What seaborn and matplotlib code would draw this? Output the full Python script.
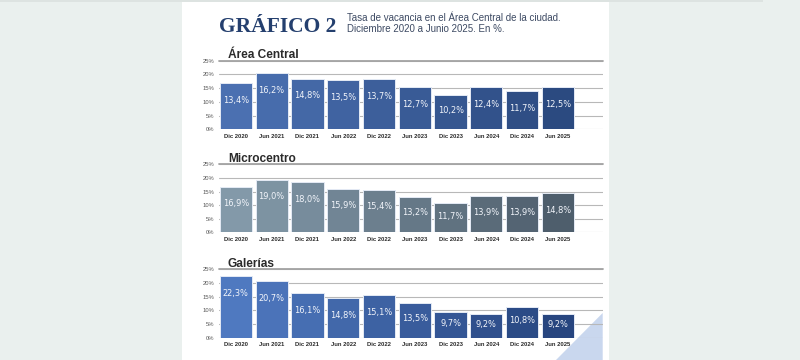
"""
Gráfico 2: tasa de vacancia en el Área Central de la ciudad (Dic 2020 - Jun 2025).
Three stacked bar panels, drawn on a white card over a pale background.
"""
import numpy as np
import pandas as pd
import matplotlib.pyplot as plt
from matplotlib.patches import Rectangle, Polygon
from matplotlib import font_manager
import seaborn as sns

periods = ["Dic 2020", "Jun 2021", "Dic 2021", "Jun 2022", "Dic 2022",
           "Jun 2023", "Dic 2023", "Jun 2024", "Dic 2024", "Jun 2025"]

# bar heights as drawn against the 0-25% axis
area_central_bar = [16.9, 20.6, 18.5, 17.9, 18.2, 15.5, 12.5, 15.3, 13.9, 15.5]
microcentro_bar = [16.8, 19.3, 18.5, 16.0, 15.7, 13.0, 10.8, 13.3, 13.3, 14.3]
galerias_bar = [22.6, 20.7, 16.2, 14.4, 15.6, 12.7, 9.3, 8.5, 11.2, 8.5]

# values printed inside the bars
area_central_pct = [13.4, 16.2, 14.8, 13.5, 13.7, 12.7, 10.2, 12.4, 11.7, 12.5]
microcentro_pct = [16.9, 19.0, 18.0, 15.9, 15.4, 13.2, 11.7, 13.9, 13.9, 14.8]
galerias_pct = [22.3, 20.7, 16.1, 14.8, 15.1, 13.5, 9.7, 9.2, 10.8, 9.2]

y_ticks = [0, 5, 10, 15, 20, 25]

panels = [
    ("Área Central", area_central_bar, area_central_pct, ["#4b70b1", "#2b4a80"]),
    ("Microcentro", microcentro_bar, microcentro_pct, ["#8399a9", "#4e5e6c"]),
    ("Galerías", galerias_bar, galerias_pct, ["#4f79c0", "#27457f"]),
]

W, H = 800, 360
# axes boxes in pixels: left, top (25% line), right, bottom (0% line)
boxes = [(219, 60.7, 602.7, 129.3), (219, 164.3, 602.7, 232.3), (219, 269.3, 602.7, 337.7)]


def fmt_pct(v):
    return f"{v:.1f}".replace(".", ",") + "%"


sns.set_theme(style="white")
plt.rcParams['font.family'] = ['Liberation Sans', 'DejaVu Sans']

# condensed face for the in-bar numbers, if the system has one
label_font = font_manager.FontProperties(family='DejaVu Sans', stretch='condensed', size=6.6)

fig = plt.figure(figsize=(W / 100, H / 100), dpi=100)
fig.patch.set_facecolor('#eaf0ee')

# white card + corner decoration
fig.add_artist(Rectangle((182 / W, 0), (609 - 182) / W, 1, transform=fig.transFigure,
                         facecolor='white', edgecolor='none', zorder=-2))
fig.add_artist(Rectangle((0, 1 - 2 / H), 763 / W, 2 / H, transform=fig.transFigure,
                         facecolor='#dde3e1', edgecolor='none', zorder=-1.5))
fig.add_artist(Polygon([(556 / W, 0), (602.7 / W, 1 - 313 / H), (602.7 / W, 0)],
                       closed=True, transform=fig.transFigure,
                       facecolor='#c9d7ee', edgecolor='none', zorder=-1))

for (name, bars, pct, colors), (l, t, r, b) in zip(panels, boxes):
    ax = fig.add_axes([l / W, 1 - b / H, (r - l) / W, (b - t) / H])
    ax.set_facecolor('none')
    df = pd.DataFrame({'period': periods, 'rate': bars})
    sns.barplot(data=df, x='period', y='rate', hue='period', legend=False,
                palette=sns.blend_palette(colors, len(periods)), width=0.9,
                edgecolor='#e4eaf5', linewidth=0.7, saturation=1, ax=ax, zorder=2)
    ax.set_xlim(-0.47, 10.25)
    ax.set_ylim(0, 25)
    ax.set_yticks(y_ticks)
    ax.set_yticklabels([f"{t}%" for t in y_ticks])
    ax.set_xlabel('')
    ax.set_ylabel('')
    ax.grid(axis='y', color='#b8b8b8', lw=0.8)
    ax.set_axisbelow(True)
    ax.axhline(25, color='#a3a3a3', lw=1.3, clip_on=False, zorder=1)
    sns.despine(ax=ax, left=True, bottom=True)
    ax.tick_params(axis='y', labelsize=4.2, labelcolor='#555555', length=0, pad=3.5)
    ax.tick_params(axis='x', labelsize=4.2, labelcolor='#2a2a2a', length=0, pad=3.2)
    for lab in ax.get_xticklabels():
        lab.set_fontweight('bold')

    for i, (h, v) in enumerate(zip(bars, pct)):
        ax.text(i, max(h - 6.3, 0.55 * h), fmt_pct(v), ha='center', va='center',
                color='#f2f5fb', zorder=3, fontproperties=label_font)

    ax.text(0.023, 1.035, name, transform=ax.transAxes, fontsize=8.6,
            fontweight='bold', color='#2b2b2b', va='baseline', ha='left')

fig.text(219 / W, 1 - 31.7 / H, "GRÁFICO 2", family=['Liberation Serif', 'DejaVu Serif'],
         fontweight='bold', fontsize=15.5, color='#243f6e', va='baseline', ha='left')
fig.text(346.7 / W, 1 - 21 / H, "Tasa de vacancia en el Área Central de la ciudad.",
         fontsize=7, color='#3d4a63', va='baseline', ha='left')
fig.text(346.7 / W, 1 - 32 / H, "Diciembre 2020 a Junio 2025. En %.",
         fontsize=7, color='#3d4a63', va='baseline', ha='left')

fig.savefig('out.png', dpi=100)
